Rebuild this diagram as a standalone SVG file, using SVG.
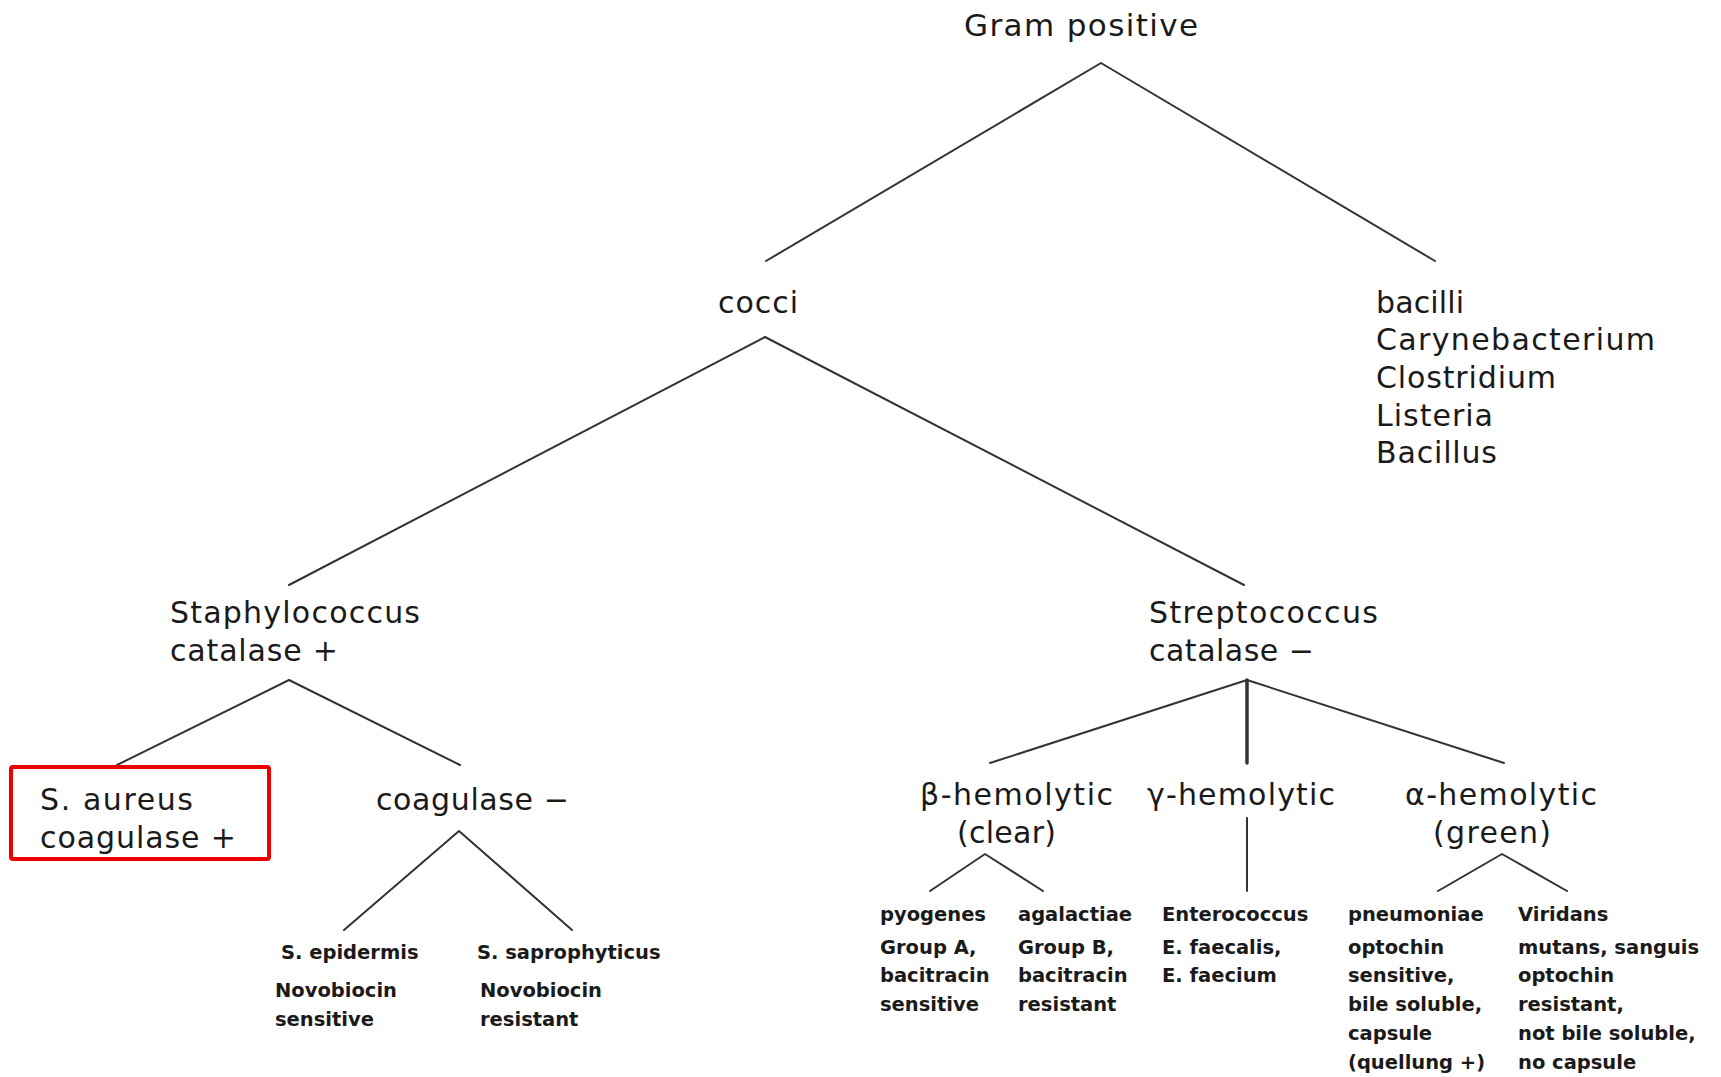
<svg xmlns="http://www.w3.org/2000/svg" width="1721" height="1077" viewBox="0 0 1721 1077">
<style>
  .lbl { font-family: "DejaVu Sans", "Liberation Sans", sans-serif; font-size: 30px; fill: #1a1a1a; }
  .big { font-size: 31px; }
  .sm { font-family: "DejaVu Sans", "Liberation Sans", sans-serif; font-size: 19.5px; font-weight: bold; fill: #1a1a1a; }
  .edge { stroke: #333; stroke-width: 2; fill: none; stroke-linecap: round; stroke-linejoin: round; }
  .thick { stroke-width: 3.5; }
  .hl { fill: none; stroke: #ee0000; stroke-width: 4; }
</style>
<rect width="1721" height="1077" fill="#ffffff"/>
<g id="connectors">
  <polyline class="edge" points="766,261 1101,63 1435,261"/>
  <polyline class="edge" points="289,585 765,337 1244,585"/>
  <polyline class="edge" points="117,765 289,680 460,765"/>
  <polyline class="edge" points="344,930 459,831 572,930"/>
  <polyline class="edge" points="990,763 1247,680 1504,763"/>
  <line class="edge thick" x1="1247" y1="680" x2="1247" y2="763"/>
  <polyline class="edge" points="930,891 985,854 1043,891"/>
  <line class="edge" x1="1247" y1="818" x2="1247" y2="891"/>
  <polyline class="edge" points="1438,891 1502,854 1567,891"/>
</g>
<g id="gram-positive">
  <text class="lbl big" x="964" y="36" textLength="234" lengthAdjust="spacing">Gram positive</text>
</g>
<g id="cocci">
  <text class="lbl" x="718" y="313" textLength="80" lengthAdjust="spacing">cocci</text>
</g>
<g id="bacilli">
  <text class="lbl" x="1376" y="313" textLength="88" lengthAdjust="spacing">bacilli</text>
  <text class="lbl" x="1376" y="350" textLength="279" lengthAdjust="spacing">Carynebacterium</text>
  <text class="lbl" x="1376" y="388" textLength="180" lengthAdjust="spacing">Clostridium</text>
  <text class="lbl" x="1376" y="426" textLength="117" lengthAdjust="spacing">Listeria</text>
  <text class="lbl" x="1376" y="463" textLength="121" lengthAdjust="spacing">Bacillus</text>
</g>
<g id="staphylococcus">
  <text class="lbl" x="170" y="623" textLength="250" lengthAdjust="spacing">Staphylococcus</text>
  <text class="lbl" x="170" y="661" textLength="168" lengthAdjust="spacing">catalase +</text>
</g>
<g id="s-aureus">
  <rect class="hl" x="11" y="767" width="258" height="92" rx="2"/>
  <text class="lbl" x="40" y="810" textLength="153" lengthAdjust="spacing">S. aureus</text>
  <text class="lbl" x="40" y="848" textLength="196" lengthAdjust="spacing">coagulase +</text>
</g>
<g id="coagulase-neg">
  <text class="lbl" x="376" y="810" textLength="193" lengthAdjust="spacing">coagulase −</text>
</g>
<g id="s-epidermis">
  <text class="sm" x="281" y="959">S. epidermis</text>
  <text class="sm" x="275" y="997">Novobiocin</text>
  <text class="sm" x="275" y="1026">sensitive</text>
</g>
<g id="s-saprophyticus">
  <text class="sm" x="477" y="959">S. saprophyticus</text>
  <text class="sm" x="480" y="997">Novobiocin</text>
  <text class="sm" x="480" y="1026">resistant</text>
</g>
<g id="streptococcus">
  <text class="lbl" x="1149" y="623" textLength="229" lengthAdjust="spacing">Streptococcus</text>
  <text class="lbl" x="1149" y="661" textLength="165" lengthAdjust="spacing">catalase −</text>
</g>
<g id="beta-hemolytic">
  <text class="lbl" x="920" y="805" textLength="193" lengthAdjust="spacing">β-hemolytic</text>
  <text class="lbl" x="957" y="843" textLength="99" lengthAdjust="spacing">(clear)</text>
</g>
<g id="gamma-hemolytic">
  <text class="lbl" x="1147" y="805" textLength="188" lengthAdjust="spacing">γ-hemolytic</text>
</g>
<g id="alpha-hemolytic">
  <text class="lbl" x="1405" y="805" textLength="192" lengthAdjust="spacing">α-hemolytic</text>
  <text class="lbl" x="1433" y="843" textLength="118" lengthAdjust="spacing">(green)</text>
</g>
<g id="pyogenes">
  <text class="sm" x="880" y="921">pyogenes</text>
  <text class="sm" x="880" y="954">Group A,</text>
  <text class="sm" x="880" y="982">bacitracin</text>
  <text class="sm" x="880" y="1011">sensitive</text>
</g>
<g id="agalactiae">
  <text class="sm" x="1018" y="921">agalactiae</text>
  <text class="sm" x="1018" y="954">Group B,</text>
  <text class="sm" x="1018" y="982">bacitracin</text>
  <text class="sm" x="1018" y="1011">resistant</text>
</g>
<g id="enterococcus">
  <text class="sm" x="1162" y="921">Enterococcus</text>
  <text class="sm" x="1162" y="954">E. faecalis,</text>
  <text class="sm" x="1162" y="982">E. faecium</text>
</g>
<g id="pneumoniae">
  <text class="sm" x="1348" y="921">pneumoniae</text>
  <text class="sm" x="1348" y="954">optochin</text>
  <text class="sm" x="1348" y="982">sensitive,</text>
  <text class="sm" x="1348" y="1011">bile soluble,</text>
  <text class="sm" x="1348" y="1040">capsule</text>
  <text class="sm" x="1348" y="1069">(quellung +)</text>
</g>
<g id="viridans">
  <text class="sm" x="1518" y="921">Viridans</text>
  <text class="sm" x="1518" y="954">mutans, sanguis</text>
  <text class="sm" x="1518" y="982">optochin</text>
  <text class="sm" x="1518" y="1011">resistant,</text>
  <text class="sm" x="1518" y="1040">not bile soluble,</text>
  <text class="sm" x="1518" y="1069">no capsule</text>
</g>
</svg>
